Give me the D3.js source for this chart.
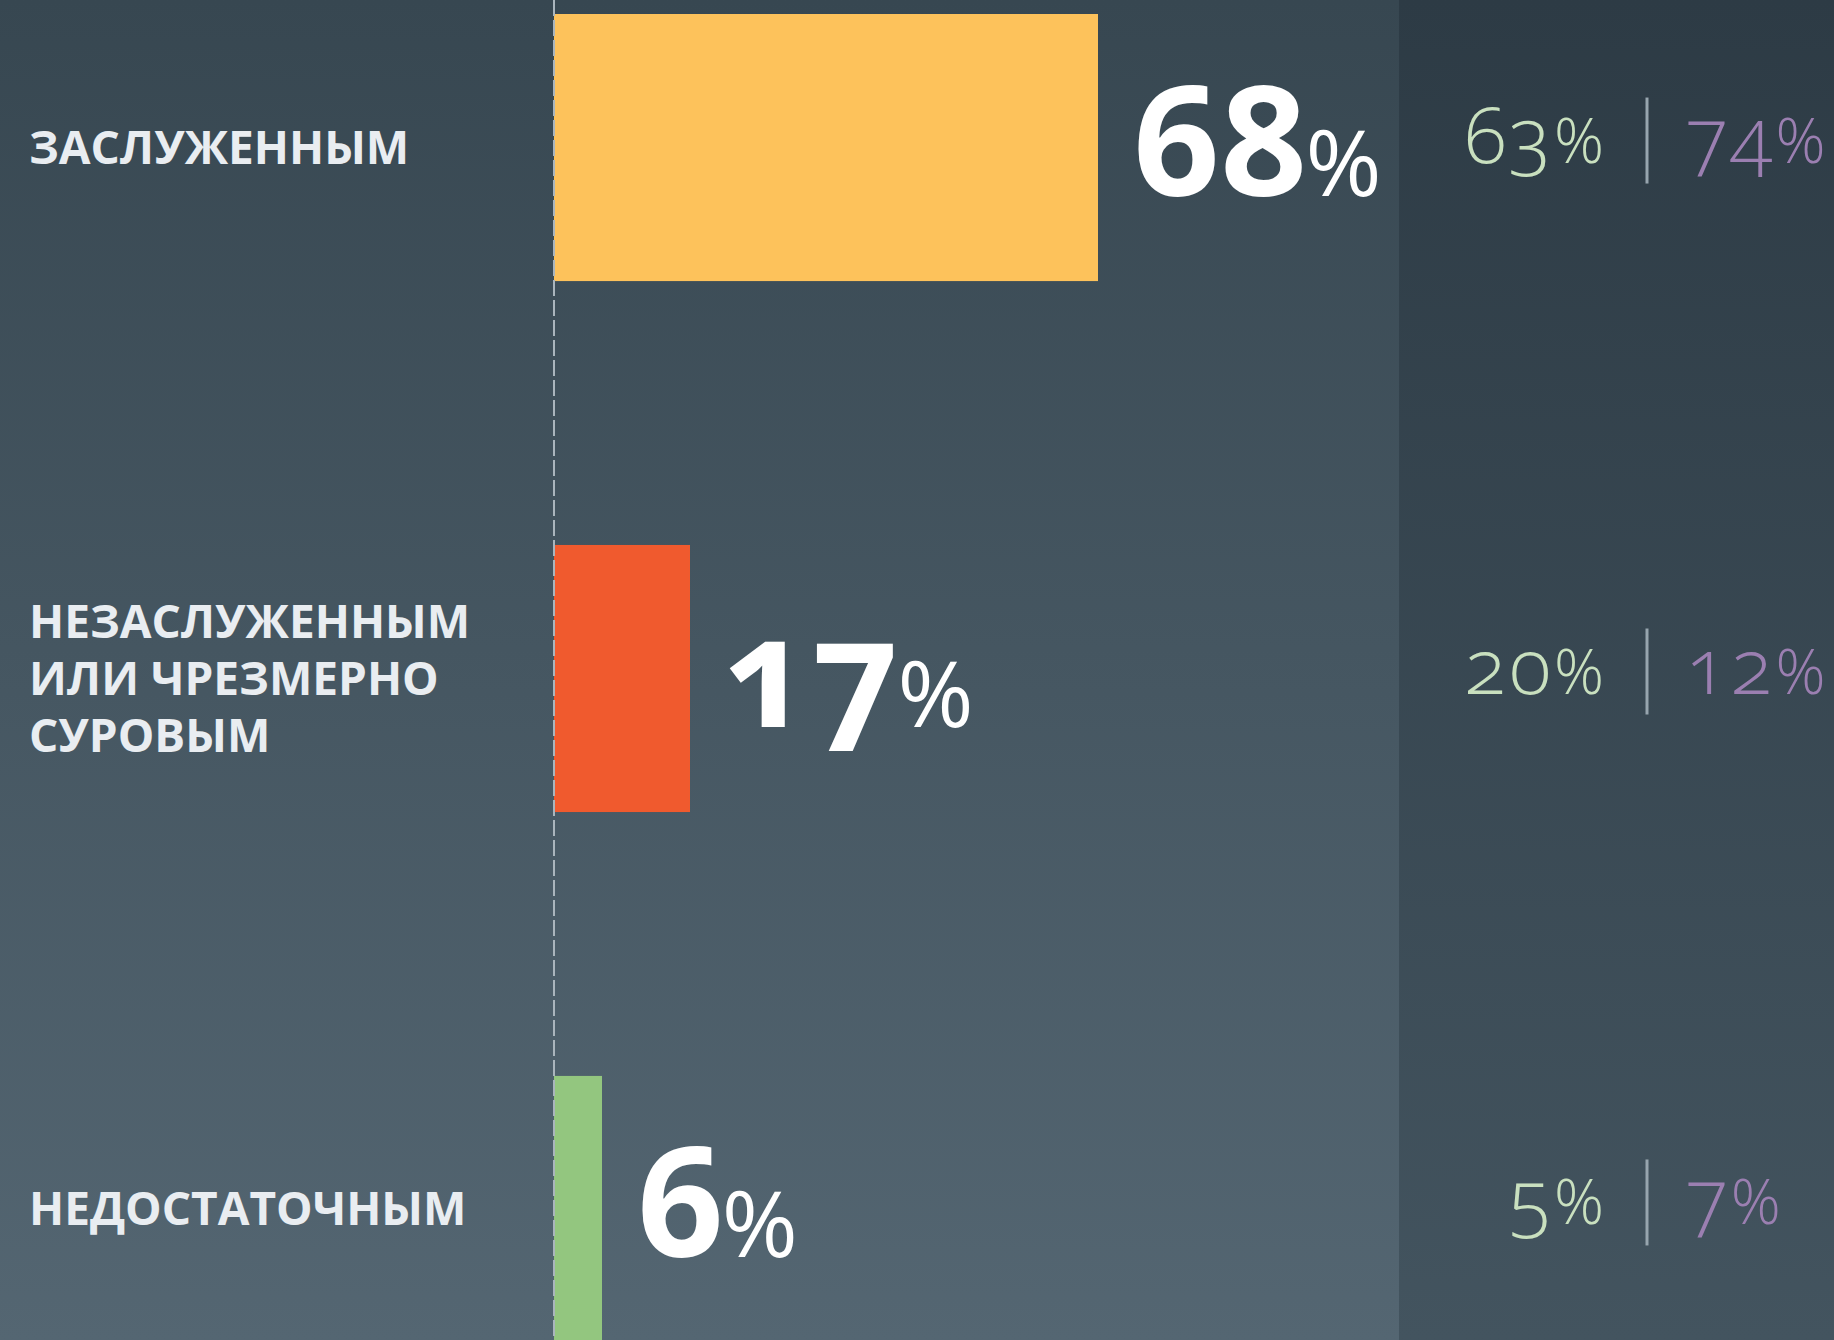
<!DOCTYPE html>
<html>
<head>
<meta charset="utf-8">
<script src="https://cdn.jsdelivr.net/npm/d3@7"></script>
<style>
  body { margin: 0; background: #3f505b; }
  svg { display: block; }
  .cat { font-family: "Open Sans", sans-serif; font-weight: 700; fill: #e9edf1; }
  .big { font-family: "Open Sans", sans-serif; fill: #ffffff; font-variant-numeric: oldstyle-nums; font-feature-settings: "onum" 1; }
  .small { font-family: "Open Sans", sans-serif; font-weight: 300; font-variant-numeric: oldstyle-nums; font-feature-settings: "onum" 1; letter-spacing: 3px; }
</style>
</head>
<body>
<svg width="1834" height="1340"></svg>
<script>
var categories = [["ЗАСЛУЖЕННЫМ"], ["НЕЗАСЛУЖЕННЫМ", "ИЛИ ЧРЕЗМЕРНО", "СУРОВЫМ"], ["НЕДОСТАТОЧНЫМ"]];
var values = [68, 17, 6];
var leftValues = [63, 20, 5];
var rightValues = [74, 12, 7];
var barColors = ["#fdc25b", "#f05a2e", "#93c67f"];

var svg = d3.select("svg"),
    width = 1834,
    height = 1340,
    x0 = 554,
    panelX = 1399;

var defs = svg.append("defs");
var g1 = defs.append("linearGradient").attr("id", "bgLeft").attr("x1", 0).attr("y1", 0).attr("x2", 0).attr("y2", 1);
g1.append("stop").attr("offset", "0%").attr("stop-color", "#374751");
g1.append("stop").attr("offset", "100%").attr("stop-color", "#546672");
var g2 = defs.append("linearGradient").attr("id", "bgRight").attr("x1", 0).attr("y1", 0).attr("x2", 0).attr("y2", 1);
g2.append("stop").attr("offset", "0%").attr("stop-color", "#2d3b45");
g2.append("stop").attr("offset", "100%").attr("stop-color", "#43545f");

svg.append("rect").attr("width", panelX).attr("height", height).attr("fill", "url(#bgLeft)");
svg.append("rect").attr("x", panelX).attr("width", width - panelX).attr("height", height).attr("fill", "url(#bgRight)");

var idx = d3.range(values.length);

var x = d3.scaleLinear().domain([0, 100]).range([x0, x0 + 800]);
var y = d3.scaleBand().domain(idx).range([14, 1343]).paddingInner(0.497).paddingOuter(0);

// bars
svg.selectAll(".bar")
    .data(idx)
  .enter().append("rect")
    .attr("class", "bar")
    .attr("x", x(0))
    .attr("y", function(i) { return y(i); })
    .attr("width", function(i) { return x(values[i]) - x(0); })
    .attr("height", y.bandwidth())
    .attr("fill", function(i) { return barColors[i]; });

// dashed baseline
svg.append("line")
    .attr("x1", x(0)).attr("x2", x(0))
    .attr("y1", 0).attr("y2", height)
    .attr("stroke", "#aab5bd")
    .attr("stroke-width", 2)
    .attr("stroke-dasharray", "16,4");

// category labels
var cy = function(i) { return y(i) + y.bandwidth() / 2; };
var lineH = 57;
svg.selectAll(".cat")
    .data(idx)
  .enter().append("text")
    .attr("class", "cat")
    .attr("font-size", 46)
    .each(function(i) {
        var lines = categories[i];
        var t = d3.select(this);
        lines.forEach(function(l, k) {
            t.append("tspan")
                .attr("x", 29)
                .attr("y", cy(i) + 16 + (k - (lines.length - 1) / 2) * lineH)
                .text(l);
        });
    });

// big value labels
var big = svg.selectAll(".big")
    .data(idx)
  .enter().append("text")
    .attr("class", "big")
    .attr("x", function(i) { return x(values[i]) + 34; })
    .attr("y", function(i) { return cy(i) + 48; });
big.append("tspan").attr("font-weight", 700).attr("font-size", 152).text(function(i) { return values[i]; });
big.append("tspan").attr("font-weight", 400).attr("font-size", 92).attr("dx", -2).text("%");

// comparison values
function small(cls, data, xPos, anchor, color) {
    var t = svg.selectAll("." + cls)
        .data(idx)
      .enter().append("text")
        .attr("class", "small " + cls)
        .attr("x", xPos)
        .attr("y", function(i) { return cy(i) + 15; })
        .attr("text-anchor", anchor)
        .attr("fill", color);
    t.append("tspan").attr("font-size", 78).text(function(i) { return data[i]; });
    t.append("tspan").attr("font-size", 62).text("%");
}
small("lv", leftValues, 1607, "end", "#c9e0bf");
small("rv", rightValues, 1686, "start", "#9b7fb1");

svg.selectAll(".sep")
    .data(idx)
  .enter().append("line")
    .attr("class", "sep")
    .attr("x1", 1647).attr("x2", 1647)
    .attr("y1", function(i) { return cy(i) - 50; })
    .attr("y2", function(i) { return cy(i) + 36; })
    .attr("stroke", "#97a5ae")
    .attr("stroke-width", 3);
</script>
</body>
</html>
